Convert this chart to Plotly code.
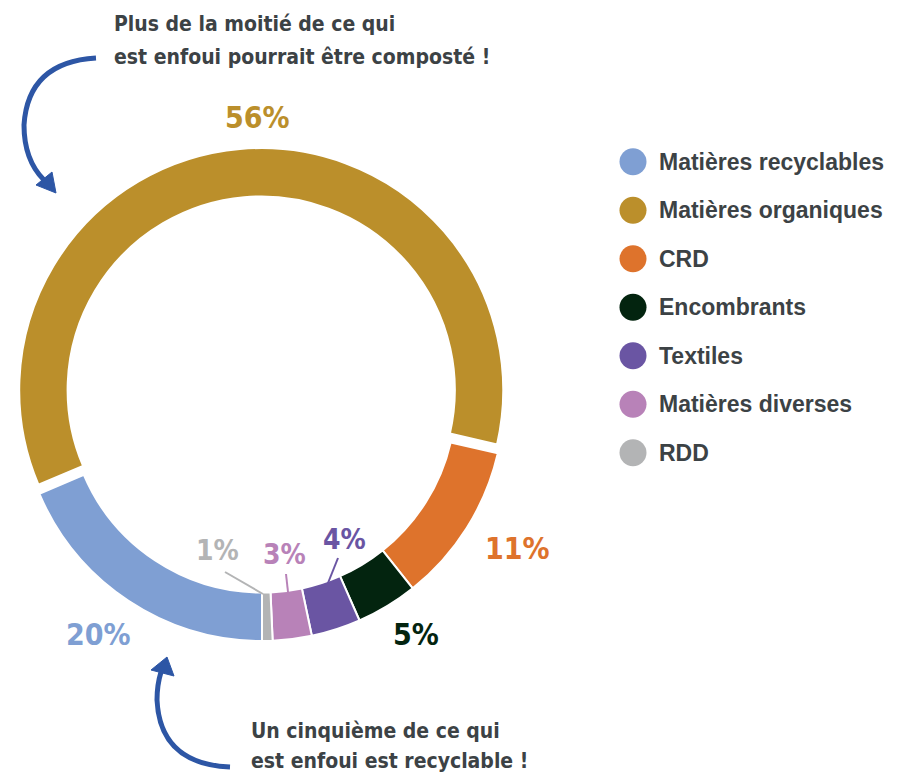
import plotly.graph_objects as go

# ---- data ----
categories = ["Matières recyclables", "Matières organiques", "CRD", "Encombrants",
              "Textiles", "Matières diverses", "RDD"]
# printed percentages
pct_labels = [20, 56, 11, 5, 4, 3, 1]
# arc shares as drawn in the reference ring (%)
shares = [18.6, 60.0, 10.7, 4.1, 3.3, 2.6, 0.7]
colors = ["#7f9fd3", "#bb8f2b", "#de732c", "#03240f", "#6a55a3", "#b882b8", "#b3b4b5"]
pulls = [0, 0.037, 0, 0, 0, 0, 0]

title_top = ["Plus de la moitié de ce qui", "est enfoui pourrait être composté !"]
title_bottom = ["Un cinquième de ce qui", "est enfoui est recyclable !"]

# ---- layout helpers (pixel positions) ----
W, H = 905, 781
label_pos = [(98, 634), (257, 117), (517, 548), (416, 634), (344, 539), (284, 554), (217, 550)]
leaders = {4: ((338, 558), (328, 583)), 5: ((286, 574), (288, 592)), 6: ((225, 572), (263, 594))}

COND = "Liberation Sans Narrow, DejaVu Sans Condensed, Arial Narrow, sans-serif"
SANS = "Liberation Sans, Arial, Helvetica, sans-serif"
DARK = "#3c4245"
BLUE = "#2d56a5"

# pie geometry: radius R, center (cx, cy) in px
cx, cy, R = 262, 399, 242
half = R * (1 + max(pulls))
dom_x = [(cx - half) / W, (cx + half) / W]
dom_y = [1 - (cy + half) / H, 1 - (cy - half) / H]

fig = go.Figure()
fig.add_trace(go.Pie(
    labels=categories, values=shares, sort=False, direction="clockwise", rotation=180,
    hole=0.80, pull=pulls, textinfo="none", showlegend=False, hoverinfo="label",
    marker=dict(colors=colors, line=dict(color="white", width=2)),
    domain=dict(x=dom_x, y=dom_y),
))

# invisible overlay axes in pixel units
fig.add_trace(go.Scatter(x=[0, W], y=[0, H], mode="markers", marker=dict(opacity=0),
                         showlegend=False, hoverinfo="skip"))

# custom legend (circles)
leg_x, leg_y0, leg_dy = 633, 161.7, 48.5
leg_y = [leg_y0 + leg_dy * i for i in range(len(categories))]
fig.add_trace(go.Scatter(x=[leg_x] * len(categories), y=leg_y, mode="markers",
                         marker=dict(size=27, color=colors, line=dict(width=0)),
                         showlegend=False, hoverinfo="skip"))

annotations = []
for i, c in enumerate(categories):
    annotations.append(dict(x=657, y=leg_y[i], xref="x", yref="y", text=f"<b>{c}</b>",
                            showarrow=False, xanchor="left", yanchor="middle",
                            font=dict(family=SANS, size=23, color=DARK)))

for i, v in enumerate(pct_labels):
    x, y = label_pos[i]
    size = 30 if i not in (4, 5, 6) else 28
    annotations.append(dict(x=x, y=y, xref="x", yref="y", text=f"<b>{v}%</b>",
                            showarrow=False, xanchor="center", yanchor="middle",
                            font=dict(family=COND, size=size, color=colors[i])))

for (x, y), line in zip([(112, 24), (112, 57)], title_top):
    annotations.append(dict(x=x, y=y, xref="x", yref="y", text=f"<b>{line}</b>",
                            showarrow=False, xanchor="left", yanchor="middle",
                            font=dict(family=COND, size=21, color=DARK)))
for (x, y), line in zip([(249, 731), (249, 761)], title_bottom):
    annotations.append(dict(x=x, y=y, xref="x", yref="y", text=f"<b>{line}</b>",
                            showarrow=False, xanchor="left", yanchor="middle",
                            font=dict(family=COND, size=21, color=DARK)))

shapes = []
for i, ((x0, y0), (x1, y1)) in leaders.items():
    shapes.append(dict(type="line", x0=x0, y0=y0, x1=x1, y1=y1, xref="x", yref="y",
                       line=dict(color=colors[i], width=2)))

# curved arrows
shapes.append(dict(type="path", xref="x", yref="y",
                   path="M 96 58 Q 28 62 24 125 Q 24 160 44 180",
                   line=dict(color=BLUE, width=5)))
shapes.append(dict(type="path", xref="x", yref="y",
                   path="M 36 185 L 56 193 L 52 172 Z",
                   fillcolor=BLUE, line=dict(color=BLUE, width=1)))
shapes.append(dict(type="path", xref="x", yref="y",
                   path="M 230 767 Q 160 764 157 700 Q 157 685 161 672",
                   line=dict(color=BLUE, width=5)))
shapes.append(dict(type="path", xref="x", yref="y",
                   path="M 151 670 L 167 657 L 174 676 Z",
                   fillcolor=BLUE, line=dict(color=BLUE, width=1)))

fig.update_layout(
    width=W, height=H, margin=dict(l=0, r=0, t=0, b=0),
    paper_bgcolor="white", plot_bgcolor="rgba(0,0,0,0)",
    xaxis=dict(range=[0, W], visible=False, fixedrange=True),
    yaxis=dict(range=[H, 0], visible=False, fixedrange=True),
    annotations=annotations, shapes=shapes, showlegend=False,
)

fig.write_html("out.html", config={"displayModeBar": False},
               post_script="document.body.style.margin='0';document.body.style.overflow='hidden';")
